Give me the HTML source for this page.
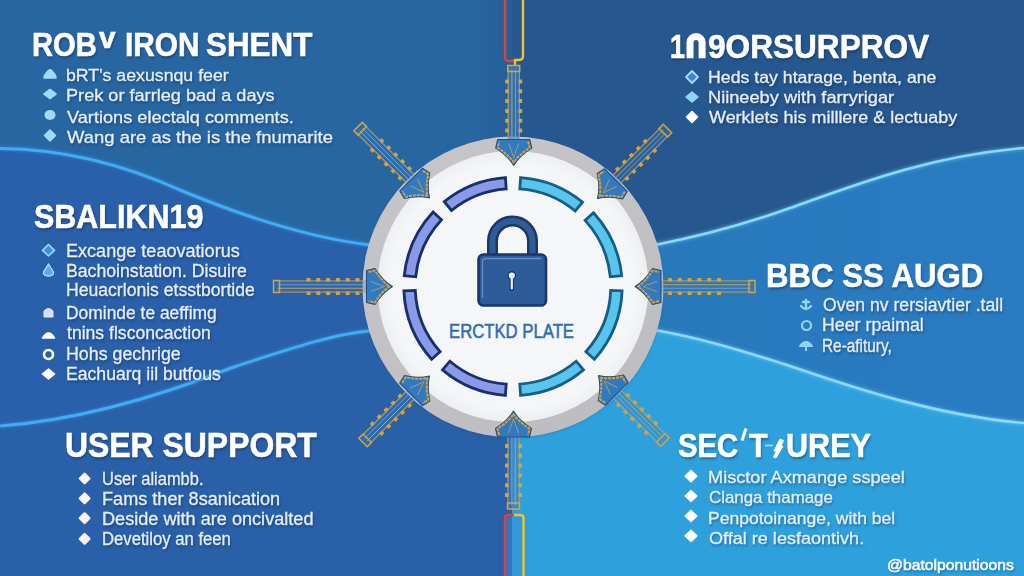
<!DOCTYPE html>
<html><head><meta charset="utf-8"><style>
html,body{margin:0;padding:0;width:1024px;height:576px;overflow:hidden;background:#2866a2}
.t{position:absolute;white-space:pre;line-height:1;font-family:"Liberation Sans",sans-serif;transform-origin:0 0;text-shadow:1px 1.5px 2.5px rgba(8,30,70,0.45)}
svg{position:absolute;left:0;top:0}
</style></head><body>
<svg width="1024" height="576" viewBox="0 0 1024 576">
<defs>
<linearGradient id="lg" x1="0" y1="0" x2="0" y2="1"><stop offset="0" stop-color="#2866a2"/><stop offset="1" stop-color="#2b62a6"/></linearGradient>
<linearGradient id="mg" x1="0" y1="0" x2="1" y2="0"><stop offset="0" stop-color="#2776ba"/><stop offset="1" stop-color="#2a7cc0"/></linearGradient>
<radialGradient id="wg" cx="0.5" cy="0.5" r="0.5"><stop offset="0.9" stop-color="#f5f6f7"/><stop offset="1" stop-color="#eeeff1"/></radialGradient>
<linearGradient id="rg" x1="0.2" y1="0" x2="0.8" y2="1"><stop offset="0" stop-color="#c6c6c8"/><stop offset="1" stop-color="#bdbdc0"/></linearGradient>
<filter id="glow" x="-10%" y="-10%" width="120%" height="120%"><feGaussianBlur stdDeviation="1.5"/></filter>
<filter id="b05"><feGaussianBlur stdDeviation="0.5"/></filter>
</defs>
<rect x="0" y="0" width="512" height="576" fill="#2866a2"/>
<rect x="512" y="0" width="512" height="576" fill="#26578e"/>
<defs><linearGradient id="cg" x1="0" y1="0" x2="1" y2="0"><stop offset="0" stop-color="#26578e" stop-opacity="0"/><stop offset="1" stop-color="#26578e" stop-opacity="0.6"/></linearGradient></defs>
<rect x="470" y="0" width="42" height="200" fill="url(#cg)"/>
<path d="M0,148.5 C60,149 120,163 180,190 C240,215 310,238 370,245 L512,245 L512,576 L0,576 Z" fill="#2a5fa9"/>
<path d="M0,426 C80,420 160,396 231,368 C300,345 340,333 370,331 L512,331 L512,576 L0,576 Z" fill="#2a60a7"/>
<path d="M655,245 C700,236 740,226 790,208 C860,183 930,156 1024,148 L1024,576 L512,576 L512,244 Z" fill="url(#mg)"/>
<path d="M655,330 C700,338 740,350 790,366 C860,390 940,416 1024,423 L1024,576 L512,576 L512,330 Z" fill="#2ea0db"/>
<path d="M0,148.5 C60,149 120,163 180,190 C240,215 310,238 370,245" fill="none" stroke="#3aa6f0" stroke-width="5" opacity="0.35" filter="url(#glow)"/>
<path d="M0,148.5 C60,149 120,163 180,190 C240,215 310,238 370,245" fill="none" stroke="#40acf4" stroke-width="3"/>
<path d="M0,426 C80,420 160,396 231,368 C300,345 340,333 370,331" fill="none" stroke="#3aa6f0" stroke-width="5" opacity="0.35" filter="url(#glow)"/>
<path d="M0,426 C80,420 160,396 231,368 C300,345 340,333 370,331" fill="none" stroke="#40acf4" stroke-width="3"/>
<path d="M655,245 C700,236 740,226 790,208 C860,183 930,156 1024,148" fill="none" stroke="#6fd0fa" stroke-width="5" opacity="0.4" filter="url(#glow)"/>
<path d="M655,245 C700,236 740,226 790,208 C860,183 930,156 1024,148" fill="none" stroke="#8ad8fb" stroke-width="2.6"/>
<path d="M655,330 C700,338 740,350 790,366 C860,390 940,416 1024,423" fill="none" stroke="#6fd0fa" stroke-width="5" opacity="0.4" filter="url(#glow)"/>
<path d="M655,330 C700,338 740,350 790,366 C860,390 940,416 1024,423" fill="none" stroke="#8ad8fb" stroke-width="2.6"/>
<path d="M505,0 L505,57 Q505,61 509,61 L514,61" fill="none" stroke="#d8453c" stroke-width="2.4"/>
<path d="M523,0 L523,56 Q523,60 519,60 L515,60 L515,66" fill="none" stroke="#f1c232" stroke-width="2.4"/>
<rect x="506.5" y="517" width="15.5" height="59" fill="#3a8ed8" opacity="0.5"/>
<path d="M505,576 L505,518 Q505,515 508,515 L514,515" fill="none" stroke="#d8453c" stroke-width="2.4"/>
<path d="M523.5,576 L523.5,518 Q523.5,515 520,515 L514,515" fill="none" stroke="#f1c232" stroke-width="2.4"/>
<circle cx="513" cy="288.5" r="150" fill="#1d4a80" opacity="0.25" filter="url(#glow)"/>
<circle cx="513" cy="287" r="150.5" fill="url(#rg)"/>
<circle cx="513" cy="286.5" r="135.5" fill="url(#wg)"/>
<path d="M621.7,275.7 A109.2,109.2 0 0 0 593.5,212.7 L585.1,220.4 A97.8,97.8 0 0 1 610.3,276.8 Z" fill="#58c6ec" stroke="#165e88" stroke-width="2.8" stroke-linejoin="miter"/>
<path d="M582.5,202.2 A109.2,109.2 0 0 0 520.6,177.6 L519.8,188.9 A97.8,97.8 0 0 1 575.2,211.0 Z" fill="#58c6ec" stroke="#165e88" stroke-width="2.8" stroke-linejoin="miter"/>
<path d="M505.4,177.6 A109.2,109.2 0 0 0 444.3,201.6 L451.5,210.5 A97.8,97.8 0 0 1 506.2,188.9 Z" fill="#8a9ae6" stroke="#172f6c" stroke-width="2.8" stroke-linejoin="miter"/>
<path d="M433.1,212.0 A109.2,109.2 0 0 0 404.3,275.7 L415.7,276.8 A97.8,97.8 0 0 1 441.5,219.8 Z" fill="#8a9ae6" stroke="#172f6c" stroke-width="2.8" stroke-linejoin="miter"/>
<path d="M403.9,290.9 A109.2,109.2 0 0 0 431.6,359.3 L440.1,351.7 A97.8,97.8 0 0 1 415.3,290.4 Z" fill="#8a9ae6" stroke="#172f6c" stroke-width="2.8" stroke-linejoin="miter"/>
<path d="M442.5,369.9 A109.2,109.2 0 0 0 505.4,395.4 L506.2,384.1 A97.8,97.8 0 0 1 449.9,361.2 Z" fill="#8a9ae6" stroke="#172f6c" stroke-width="2.8" stroke-linejoin="miter"/>
<path d="M520.6,395.4 A109.2,109.2 0 0 0 583.5,369.9 L576.1,361.2 A97.8,97.8 0 0 1 519.8,384.1 Z" fill="#58c6ec" stroke="#165e88" stroke-width="2.8" stroke-linejoin="miter"/>
<path d="M594.4,359.3 A109.2,109.2 0 0 0 622.1,290.9 L610.7,290.4 A97.8,97.8 0 0 1 585.9,351.7 Z" fill="#58c6ec" stroke="#165e88" stroke-width="2.8" stroke-linejoin="miter"/>
<path d="M492.5,258 L492.5,241 A20,20 0 0 1 532.5,241 L532.5,258" fill="none" stroke="#1b3768" stroke-width="11"/>
<path d="M492.5,258 L492.5,241 A20,20 0 0 1 532.5,241 L532.5,258" fill="none" stroke="#2f5c98" stroke-width="6"/>
<rect x="478.5" y="254.5" width="67.5" height="51" rx="5" fill="#2e5c9a" stroke="#1b3768" stroke-width="2.6"/>
<path d="M482.5,298 L482.5,262 Q482.5,258.5 486,258.5 L541,258.5" fill="none" stroke="#7aa0d0" stroke-width="1.3" opacity="0.75"/>
<circle cx="511.8" cy="275.5" r="4.4" fill="#1b3768"/>
<rect x="509.6" y="276" width="4.4" height="15" rx="1.6" fill="#1b3768"/>
<circle cx="511.8" cy="275.5" r="3.1" fill="#e8eff8"/>
<rect x="510.7" y="276" width="2.2" height="13.5" rx="1" fill="#e8eff8"/>
<g transform="translate(392.5,286.5) rotate(0)"><rect x="-119" y="-6" width="96" height="12" fill="#3282cc" opacity="0.3"/><path d="M-116,-5.6 L-23,-5.6 M-116,5.6 L-23,5.6" stroke="#d9a23a" stroke-width="1" fill="none" opacity="0.9"/><line x1="-115" y1="-1.8" x2="-23" y2="-1.8" stroke="#9fb9cc" stroke-width="0.8" opacity="0.7"/><line x1="-115" y1="1.8" x2="-23" y2="1.8" stroke="#d9a23a" stroke-width="0.9"/><rect x="-119" y="-6" width="6" height="12" fill="none" stroke="#d9a23a" stroke-width="1.5"/><rect x="-37.0" y="-8.5" width="4" height="3.6" rx="0.6" fill="#d9a23a"/><rect x="-37.0" y="4.9" width="4" height="3.6" rx="0.6" fill="#d9a23a"/><rect x="-46.8" y="-8.5" width="4" height="3.6" rx="0.6" fill="#d9a23a"/><rect x="-46.8" y="4.9" width="4" height="3.6" rx="0.6" fill="#d9a23a"/><rect x="-56.6" y="-8.5" width="4" height="3.6" rx="0.6" fill="#d9a23a"/><rect x="-56.6" y="4.9" width="4" height="3.6" rx="0.6" fill="#d9a23a"/><rect x="-66.4" y="-8.5" width="4" height="3.6" rx="0.6" fill="#d9a23a"/><rect x="-66.4" y="4.9" width="4" height="3.6" rx="0.6" fill="#d9a23a"/><rect x="-76.2" y="-8.5" width="4" height="3.6" rx="0.6" fill="#d9a23a"/><rect x="-76.2" y="4.9" width="4" height="3.6" rx="0.6" fill="#d9a23a"/><rect x="-86.0" y="-8.5" width="4" height="3.6" rx="0.6" fill="#d9a23a"/><rect x="-86.0" y="4.9" width="4" height="3.6" rx="0.6" fill="#d9a23a"/><path d="M-26,-16 L-17.5,-18 Q-10,-6 0,0 Q-10,6 -17.5,18 L-26,16 Z" fill="#2f7ac2" stroke="#24507f" stroke-width="1.1" stroke-linejoin="round"/><path d="M-24,-14.5 L-17.5,-16 Q-11,-5.5 -3,0 Q-11,5.5 -17.5,16 L-24,14.5" fill="none" stroke="#d9a23a" stroke-width="2" stroke-dasharray="3 1" stroke-linejoin="round"/><path d="M-22,-5 L-8,0 L-22,5" fill="none" stroke="#d9a23a" stroke-width="0.9" opacity="0.85"/></g>
<g transform="translate(635,286.5) rotate(180)"><rect x="-120" y="-6" width="97" height="12" fill="#3282cc" opacity="0.3"/><path d="M-117,-5.6 L-23,-5.6 M-117,5.6 L-23,5.6" stroke="#d9a23a" stroke-width="1" fill="none" opacity="0.9"/><line x1="-116" y1="-1.8" x2="-23" y2="-1.8" stroke="#9fb9cc" stroke-width="0.8" opacity="0.7"/><line x1="-116" y1="1.8" x2="-23" y2="1.8" stroke="#d9a23a" stroke-width="0.9"/><rect x="-120" y="-6" width="6" height="12" fill="none" stroke="#d9a23a" stroke-width="1.5"/><rect x="-37.0" y="-8.5" width="4" height="3.6" rx="0.6" fill="#d9a23a"/><rect x="-37.0" y="4.9" width="4" height="3.6" rx="0.6" fill="#d9a23a"/><rect x="-46.8" y="-8.5" width="4" height="3.6" rx="0.6" fill="#d9a23a"/><rect x="-46.8" y="4.9" width="4" height="3.6" rx="0.6" fill="#d9a23a"/><rect x="-56.6" y="-8.5" width="4" height="3.6" rx="0.6" fill="#d9a23a"/><rect x="-56.6" y="4.9" width="4" height="3.6" rx="0.6" fill="#d9a23a"/><rect x="-66.4" y="-8.5" width="4" height="3.6" rx="0.6" fill="#d9a23a"/><rect x="-66.4" y="4.9" width="4" height="3.6" rx="0.6" fill="#d9a23a"/><rect x="-76.2" y="-8.5" width="4" height="3.6" rx="0.6" fill="#d9a23a"/><rect x="-76.2" y="4.9" width="4" height="3.6" rx="0.6" fill="#d9a23a"/><rect x="-86.0" y="-8.5" width="4" height="3.6" rx="0.6" fill="#d9a23a"/><rect x="-86.0" y="4.9" width="4" height="3.6" rx="0.6" fill="#d9a23a"/><path d="M-26,-16 L-17.5,-18 Q-10,-6 0,0 Q-10,6 -17.5,18 L-26,16 Z" fill="#2f7ac2" stroke="#24507f" stroke-width="1.1" stroke-linejoin="round"/><path d="M-24,-14.5 L-17.5,-16 Q-11,-5.5 -3,0 Q-11,5.5 -17.5,16 L-24,14.5" fill="none" stroke="#d9a23a" stroke-width="2" stroke-dasharray="3 1" stroke-linejoin="round"/><path d="M-22,-5 L-8,0 L-22,5" fill="none" stroke="#d9a23a" stroke-width="0.9" opacity="0.85"/></g>
<g transform="translate(513.7,165.5) rotate(90)"><rect x="-100" y="-6" width="77" height="12" fill="#3282cc" opacity="0.65"/><path d="M-97,-5.6 L-23,-5.6 M-97,5.6 L-23,5.6" stroke="#d9a23a" stroke-width="1" fill="none" opacity="0.9"/><line x1="-96" y1="-1.8" x2="-23" y2="-1.8" stroke="#9fb9cc" stroke-width="0.8" opacity="0.7"/><line x1="-96" y1="1.8" x2="-23" y2="1.8" stroke="#d9a23a" stroke-width="0.9"/><rect x="-100" y="-6" width="6" height="12" fill="none" stroke="#d9a23a" stroke-width="1.5"/><rect x="-37.0" y="-8.5" width="4" height="3.6" rx="0.6" fill="#d9a23a"/><rect x="-37.0" y="4.9" width="4" height="3.6" rx="0.6" fill="#d9a23a"/><rect x="-46.8" y="-8.5" width="4" height="3.6" rx="0.6" fill="#d9a23a"/><rect x="-46.8" y="4.9" width="4" height="3.6" rx="0.6" fill="#d9a23a"/><rect x="-56.6" y="-8.5" width="4" height="3.6" rx="0.6" fill="#d9a23a"/><rect x="-56.6" y="4.9" width="4" height="3.6" rx="0.6" fill="#d9a23a"/><rect x="-66.4" y="-8.5" width="4" height="3.6" rx="0.6" fill="#d9a23a"/><rect x="-66.4" y="4.9" width="4" height="3.6" rx="0.6" fill="#d9a23a"/><rect x="-76.2" y="-8.5" width="4" height="3.6" rx="0.6" fill="#d9a23a"/><rect x="-76.2" y="4.9" width="4" height="3.6" rx="0.6" fill="#d9a23a"/><rect x="-86.0" y="-8.5" width="4" height="3.6" rx="0.6" fill="#d9a23a"/><rect x="-86.0" y="4.9" width="4" height="3.6" rx="0.6" fill="#d9a23a"/><path d="M-26,-16 L-17.5,-18 Q-10,-6 0,0 Q-10,6 -17.5,18 L-26,16 Z" fill="#2f7ac2" stroke="#24507f" stroke-width="1.1" stroke-linejoin="round"/><path d="M-24,-14.5 L-17.5,-16 Q-11,-5.5 -3,0 Q-11,5.5 -17.5,16 L-24,14.5" fill="none" stroke="#d9a23a" stroke-width="2" stroke-dasharray="3 1" stroke-linejoin="round"/><path d="M-22,-5 L-8,0 L-22,5" fill="none" stroke="#d9a23a" stroke-width="0.9" opacity="0.85"/></g>
<g transform="translate(513.5,411) rotate(-90)"><rect x="-98" y="-6" width="75" height="12" fill="#3282cc" opacity="0.65"/><path d="M-95,-5.6 L-23,-5.6 M-95,5.6 L-23,5.6" stroke="#d9a23a" stroke-width="1" fill="none" opacity="0.9"/><line x1="-94" y1="-1.8" x2="-23" y2="-1.8" stroke="#9fb9cc" stroke-width="0.8" opacity="0.7"/><line x1="-94" y1="1.8" x2="-23" y2="1.8" stroke="#d9a23a" stroke-width="0.9"/><rect x="-98" y="-6" width="6" height="12" fill="none" stroke="#d9a23a" stroke-width="1.5"/><rect x="-37.0" y="-8.5" width="4" height="3.6" rx="0.6" fill="#d9a23a"/><rect x="-37.0" y="4.9" width="4" height="3.6" rx="0.6" fill="#d9a23a"/><rect x="-46.8" y="-8.5" width="4" height="3.6" rx="0.6" fill="#d9a23a"/><rect x="-46.8" y="4.9" width="4" height="3.6" rx="0.6" fill="#d9a23a"/><rect x="-56.6" y="-8.5" width="4" height="3.6" rx="0.6" fill="#d9a23a"/><rect x="-56.6" y="4.9" width="4" height="3.6" rx="0.6" fill="#d9a23a"/><rect x="-66.4" y="-8.5" width="4" height="3.6" rx="0.6" fill="#d9a23a"/><rect x="-66.4" y="4.9" width="4" height="3.6" rx="0.6" fill="#d9a23a"/><rect x="-76.2" y="-8.5" width="4" height="3.6" rx="0.6" fill="#d9a23a"/><rect x="-76.2" y="4.9" width="4" height="3.6" rx="0.6" fill="#d9a23a"/><rect x="-86.0" y="-8.5" width="4" height="3.6" rx="0.6" fill="#d9a23a"/><rect x="-86.0" y="4.9" width="4" height="3.6" rx="0.6" fill="#d9a23a"/><path d="M-26,-16 L-17.5,-18 Q-10,-6 0,0 Q-10,6 -17.5,18 L-26,16 Z" fill="#2f7ac2" stroke="#24507f" stroke-width="1.1" stroke-linejoin="round"/><path d="M-24,-14.5 L-17.5,-16 Q-11,-5.5 -3,0 Q-11,5.5 -17.5,16 L-24,14.5" fill="none" stroke="#d9a23a" stroke-width="2" stroke-dasharray="3 1" stroke-linejoin="round"/><path d="M-22,-5 L-8,0 L-22,5" fill="none" stroke="#d9a23a" stroke-width="0.9" opacity="0.85"/></g>
<g transform="translate(429.5,198) rotate(45)"><rect x="-101" y="-6" width="78" height="12" fill="#3282cc" opacity="0.3"/><path d="M-98,-5.6 L-23,-5.6 M-98,5.6 L-23,5.6" stroke="#d9a23a" stroke-width="1" fill="none" opacity="0.9"/><line x1="-97" y1="-1.8" x2="-23" y2="-1.8" stroke="#9fb9cc" stroke-width="0.8" opacity="0.7"/><line x1="-97" y1="1.8" x2="-23" y2="1.8" stroke="#d9a23a" stroke-width="0.9"/><rect x="-101" y="-6" width="6" height="12" fill="none" stroke="#d9a23a" stroke-width="1.5"/><rect x="-37.0" y="-8.5" width="4" height="3.6" rx="0.6" fill="#d9a23a"/><rect x="-37.0" y="4.9" width="4" height="3.6" rx="0.6" fill="#d9a23a"/><rect x="-46.8" y="-8.5" width="4" height="3.6" rx="0.6" fill="#d9a23a"/><rect x="-46.8" y="4.9" width="4" height="3.6" rx="0.6" fill="#d9a23a"/><rect x="-56.6" y="-8.5" width="4" height="3.6" rx="0.6" fill="#d9a23a"/><rect x="-56.6" y="4.9" width="4" height="3.6" rx="0.6" fill="#d9a23a"/><rect x="-66.4" y="-8.5" width="4" height="3.6" rx="0.6" fill="#d9a23a"/><rect x="-66.4" y="4.9" width="4" height="3.6" rx="0.6" fill="#d9a23a"/><rect x="-76.2" y="-8.5" width="4" height="3.6" rx="0.6" fill="#d9a23a"/><rect x="-76.2" y="4.9" width="4" height="3.6" rx="0.6" fill="#d9a23a"/><path d="M-26,-16 L-17.5,-18 Q-10,-6 0,0 Q-10,6 -17.5,18 L-26,16 Z" fill="#2f7ac2" stroke="#24507f" stroke-width="1.1" stroke-linejoin="round"/><path d="M-24,-14.5 L-17.5,-16 Q-11,-5.5 -3,0 Q-11,5.5 -17.5,16 L-24,14.5" fill="none" stroke="#d9a23a" stroke-width="2" stroke-dasharray="3 1" stroke-linejoin="round"/><path d="M-22,-5 L-8,0 L-22,5" fill="none" stroke="#d9a23a" stroke-width="0.9" opacity="0.85"/></g>
<g transform="translate(597.5,198.5) rotate(135)"><rect x="-99" y="-6" width="76" height="12" fill="#3282cc" opacity="0.3"/><path d="M-96,-5.6 L-23,-5.6 M-96,5.6 L-23,5.6" stroke="#d9a23a" stroke-width="1" fill="none" opacity="0.9"/><line x1="-95" y1="-1.8" x2="-23" y2="-1.8" stroke="#9fb9cc" stroke-width="0.8" opacity="0.7"/><line x1="-95" y1="1.8" x2="-23" y2="1.8" stroke="#d9a23a" stroke-width="0.9"/><rect x="-99" y="-6" width="6" height="12" fill="none" stroke="#d9a23a" stroke-width="1.5"/><rect x="-37.0" y="-8.5" width="4" height="3.6" rx="0.6" fill="#d9a23a"/><rect x="-37.0" y="4.9" width="4" height="3.6" rx="0.6" fill="#d9a23a"/><rect x="-46.8" y="-8.5" width="4" height="3.6" rx="0.6" fill="#d9a23a"/><rect x="-46.8" y="4.9" width="4" height="3.6" rx="0.6" fill="#d9a23a"/><rect x="-56.6" y="-8.5" width="4" height="3.6" rx="0.6" fill="#d9a23a"/><rect x="-56.6" y="4.9" width="4" height="3.6" rx="0.6" fill="#d9a23a"/><rect x="-66.4" y="-8.5" width="4" height="3.6" rx="0.6" fill="#d9a23a"/><rect x="-66.4" y="4.9" width="4" height="3.6" rx="0.6" fill="#d9a23a"/><rect x="-76.2" y="-8.5" width="4" height="3.6" rx="0.6" fill="#d9a23a"/><rect x="-76.2" y="4.9" width="4" height="3.6" rx="0.6" fill="#d9a23a"/><path d="M-26,-16 L-17.5,-18 Q-10,-6 0,0 Q-10,6 -17.5,18 L-26,16 Z" fill="#2f7ac2" stroke="#24507f" stroke-width="1.1" stroke-linejoin="round"/><path d="M-24,-14.5 L-17.5,-16 Q-11,-5.5 -3,0 Q-11,5.5 -17.5,16 L-24,14.5" fill="none" stroke="#d9a23a" stroke-width="2" stroke-dasharray="3 1" stroke-linejoin="round"/><path d="M-22,-5 L-8,0 L-22,5" fill="none" stroke="#d9a23a" stroke-width="0.9" opacity="0.85"/></g>
<g transform="translate(429.5,376) rotate(-45)"><rect x="-94" y="-6" width="71" height="12" fill="#3282cc" opacity="0.3"/><path d="M-91,-5.6 L-23,-5.6 M-91,5.6 L-23,5.6" stroke="#d9a23a" stroke-width="1" fill="none" opacity="0.9"/><line x1="-90" y1="-1.8" x2="-23" y2="-1.8" stroke="#9fb9cc" stroke-width="0.8" opacity="0.7"/><line x1="-90" y1="1.8" x2="-23" y2="1.8" stroke="#d9a23a" stroke-width="0.9"/><rect x="-94" y="-6" width="6" height="12" fill="none" stroke="#d9a23a" stroke-width="1.5"/><rect x="-37.0" y="-8.5" width="4" height="3.6" rx="0.6" fill="#d9a23a"/><rect x="-37.0" y="4.9" width="4" height="3.6" rx="0.6" fill="#d9a23a"/><rect x="-46.8" y="-8.5" width="4" height="3.6" rx="0.6" fill="#d9a23a"/><rect x="-46.8" y="4.9" width="4" height="3.6" rx="0.6" fill="#d9a23a"/><rect x="-56.6" y="-8.5" width="4" height="3.6" rx="0.6" fill="#d9a23a"/><rect x="-56.6" y="4.9" width="4" height="3.6" rx="0.6" fill="#d9a23a"/><rect x="-66.4" y="-8.5" width="4" height="3.6" rx="0.6" fill="#d9a23a"/><rect x="-66.4" y="4.9" width="4" height="3.6" rx="0.6" fill="#d9a23a"/><rect x="-76.2" y="-8.5" width="4" height="3.6" rx="0.6" fill="#d9a23a"/><rect x="-76.2" y="4.9" width="4" height="3.6" rx="0.6" fill="#d9a23a"/><path d="M-26,-16 L-17.5,-18 Q-10,-6 0,0 Q-10,6 -17.5,18 L-26,16 Z" fill="#2f7ac2" stroke="#24507f" stroke-width="1.1" stroke-linejoin="round"/><path d="M-24,-14.5 L-17.5,-16 Q-11,-5.5 -3,0 Q-11,5.5 -17.5,16 L-24,14.5" fill="none" stroke="#d9a23a" stroke-width="2" stroke-dasharray="3 1" stroke-linejoin="round"/><path d="M-22,-5 L-8,0 L-22,5" fill="none" stroke="#d9a23a" stroke-width="0.9" opacity="0.85"/></g>
<g transform="translate(598.5,375.5) rotate(-135)"><rect x="-94" y="-6" width="71" height="12" fill="#3282cc" opacity="0.3"/><path d="M-91,-5.6 L-23,-5.6 M-91,5.6 L-23,5.6" stroke="#d9a23a" stroke-width="1" fill="none" opacity="0.9"/><line x1="-90" y1="-1.8" x2="-23" y2="-1.8" stroke="#9fb9cc" stroke-width="0.8" opacity="0.7"/><line x1="-90" y1="1.8" x2="-23" y2="1.8" stroke="#d9a23a" stroke-width="0.9"/><rect x="-94" y="-6" width="6" height="12" fill="none" stroke="#d9a23a" stroke-width="1.5"/><rect x="-37.0" y="-8.5" width="4" height="3.6" rx="0.6" fill="#d9a23a"/><rect x="-37.0" y="4.9" width="4" height="3.6" rx="0.6" fill="#d9a23a"/><rect x="-46.8" y="-8.5" width="4" height="3.6" rx="0.6" fill="#d9a23a"/><rect x="-46.8" y="4.9" width="4" height="3.6" rx="0.6" fill="#d9a23a"/><rect x="-56.6" y="-8.5" width="4" height="3.6" rx="0.6" fill="#d9a23a"/><rect x="-56.6" y="4.9" width="4" height="3.6" rx="0.6" fill="#d9a23a"/><rect x="-66.4" y="-8.5" width="4" height="3.6" rx="0.6" fill="#d9a23a"/><rect x="-66.4" y="4.9" width="4" height="3.6" rx="0.6" fill="#d9a23a"/><rect x="-76.2" y="-8.5" width="4" height="3.6" rx="0.6" fill="#d9a23a"/><rect x="-76.2" y="4.9" width="4" height="3.6" rx="0.6" fill="#d9a23a"/><path d="M-26,-16 L-17.5,-18 Q-10,-6 0,0 Q-10,6 -17.5,18 L-26,16 Z" fill="#2f7ac2" stroke="#24507f" stroke-width="1.1" stroke-linejoin="round"/><path d="M-24,-14.5 L-17.5,-16 Q-11,-5.5 -3,0 Q-11,5.5 -17.5,16 L-24,14.5" fill="none" stroke="#d9a23a" stroke-width="2" stroke-dasharray="3 1" stroke-linejoin="round"/><path d="M-22,-5 L-8,0 L-22,5" fill="none" stroke="#d9a23a" stroke-width="0.9" opacity="0.85"/></g>
<text x="511.5" y="337.5" text-anchor="middle" font-family="Liberation Sans" font-weight="400" font-size="19.5" fill="#2d6db0" stroke="#2d6db0" stroke-width="0.5" textLength="125" lengthAdjust="spacingAndGlyphs">ERCTKD PLATE</text>
<g filter="url(#b05)">
<path d="M44,78 Q44,75 47,72 L49,70 Q50,69.5 51,70 L53,72 Q56,75 56,78 Z" fill="#a2d9f8" stroke="#a2d9f8" stroke-width="1.5" stroke-linejoin="round"/>
<path d="M44.0,94 L50,89.5 L56.0,94 L50,98.5 Z" fill="#a2d9f8" stroke="#a2d9f8" stroke-width="1.6" stroke-linejoin="round" opacity="1"/>
<ellipse cx="50" cy="115" rx="5.5" ry="5" fill="#a2d9f8"/>
<path d="M44.5,135.5 L50,130.0 L55.5,135.5 L50,141.0 Z" fill="#a2d9f8" stroke="#a2d9f8" stroke-width="1.6" stroke-linejoin="round" opacity="1"/>
<path d="M42.5,250.3 L48.5,244.5 L54.5,250.3 L48.5,256 Z" fill="#3d8fe0" stroke="#9ed8f8" stroke-width="1.6" stroke-linejoin="round"/>
<path d="M48.5,264 L53.5,272 Q54,276 48.5,276 Q43,276 43.5,272 Z" fill="#5aaaf0" stroke="#b8e2fb" stroke-width="1.3" stroke-linejoin="round"/>
<path d="M44,317 L44,311 Q48.5,306 53,311 L53,317 Z" fill="#d8dcff" stroke="#e8eaff" stroke-width="1" stroke-linejoin="round"/>
<path d="M42.5,338 Q48.5,328 54.5,338 Z" fill="#ffffff" stroke="#ffffff" stroke-width="1.5" stroke-linejoin="round"/>
<circle cx="48.5" cy="354.5" r="4.5" fill="none" stroke="#ffffff" stroke-width="2.6"/>
<path d="M42.5,374 L48.5,369.0 L54.5,374 L48.5,379.0 Z" fill="#ffffff" stroke="#ffffff" stroke-width="1.6" stroke-linejoin="round" opacity="1"/>
<path d="M79.85,478.5 L84.6,473.75 L89.35,478.5 L84.6,483.25 Z" fill="#fdf2f6" stroke="#fdf2f6" stroke-width="2.4" stroke-linejoin="round" opacity="1"/>
<path d="M79.85,498.3 L84.6,493.55 L89.35,498.3 L84.6,503.05 Z" fill="#fdf2f6" stroke="#fdf2f6" stroke-width="2.4" stroke-linejoin="round" opacity="1"/>
<path d="M79.85,518.2 L84.6,513.45 L89.35,518.2 L84.6,522.95 Z" fill="#fdf2f6" stroke="#fdf2f6" stroke-width="2.4" stroke-linejoin="round" opacity="1"/>
<path d="M79.85,538.8 L84.6,534.05 L89.35,538.8 L84.6,543.55 Z" fill="#fdf2f6" stroke="#fdf2f6" stroke-width="2.4" stroke-linejoin="round" opacity="1"/>
<path d="M686,77 L692,71 L698,77 L692,83 Z" fill="#3a86d6" stroke="#a8dcfa" stroke-width="1.8" stroke-linejoin="round"/>
<path d="M686.0,97 L692,92.0 L698.0,97 L692,102.0 Z" fill="#8fd6f8" stroke="#8fd6f8" stroke-width="1.6" stroke-linejoin="round" opacity="1"/>
<path d="M686.5,117 L692,111.5 L697.5,117 L692,122.5 Z" fill="#ffffff" stroke="#ffffff" stroke-width="1.6" stroke-linejoin="round" opacity="1"/>
<path d="M801,306 Q806,312 811,306 M806,300 L806,309 M803,302 L809,302" fill="none" stroke="#8fd4f8" stroke-width="2.4" stroke-linecap="round"/>
<circle cx="806.5" cy="325.5" r="4.5" fill="none" stroke="#8fd4f8" stroke-width="2.2"/>
<path d="M800,346 Q806,338 812,346 Z M806,344 L806,351" fill="#8fd4f8" stroke="#8fd4f8" stroke-width="2" stroke-linejoin="round"/>
<path d="M685.25,476.2 L691,470.7 L696.75,476.2 L691,481.7 Z" fill="#ffffff" stroke="#ffffff" stroke-width="1.6" stroke-linejoin="round" opacity="1"/>
<path d="M685.25,496 L691,490.5 L696.75,496 L691,501.5 Z" fill="#ffffff" stroke="#ffffff" stroke-width="1.6" stroke-linejoin="round" opacity="1"/>
<path d="M685.25,516 L691,510.5 L696.75,516 L691,521.5 Z" fill="#ffffff" stroke="#ffffff" stroke-width="1.6" stroke-linejoin="round" opacity="1"/>
<path d="M685.25,535.8 L691,530.3 L696.75,535.8 L691,541.3 Z" fill="#ffffff" stroke="#ffffff" stroke-width="1.6" stroke-linejoin="round" opacity="1"/>
</g>
<path d="M690,58.2 L690,42.6 A6.05,6.05 0 0 1 702.1,42.6 L702.1,58.2" fill="none" stroke="#ffffff" stroke-width="7"/>
<path d="M746,428.5 L742,440.5" stroke="#ffffff" stroke-width="3" fill="none"/>
<path d="M780,439 L783.5,440.5 L780.5,447 L783,446 L776,458 L773.5,457 L776.5,450.5 L774,451 Z" fill="#ffffff" stroke="#ffffff" stroke-width="1" stroke-linejoin="round"/>
<line x1="765" y1="445.5" x2="773" y2="445.5" stroke="#d8eefa" stroke-width="1.6" opacity="0.75"/>
</svg>
<div class="t" style="left:31.93px;top:27.70px;font-size:33px;font-weight:700;color:#ffffff;-webkit-text-stroke:0.6px #ffffff;transform:scaleX(0.8837)">ROB</div>
<div class="t" style="left:99.30px;top:22.90px;font-size:29.5px;font-weight:700;color:#ffffff;-webkit-text-stroke:0.6px #ffffff;transform:scaleX(1.0059)">v</div>
<div class="t" style="left:125.19px;top:27.70px;font-size:33px;font-weight:700;color:#ffffff;-webkit-text-stroke:0.6px #ffffff;transform:scaleX(0.9025)">IRON</div>
<div class="t" style="left:206.40px;top:27.70px;font-size:33px;font-weight:700;color:#ffffff;-webkit-text-stroke:0.6px #ffffff;transform:scaleX(0.9509)">SHENT</div>
<div class="t" style="left:34.00px;top:200.20px;font-size:33px;font-weight:700;color:#ffffff;-webkit-text-stroke:0.6px #ffffff;transform:scaleX(0.9234)">SBALIKN19</div>
<div class="t" style="left:65.18px;top:426.90px;font-size:35px;font-weight:700;color:#ffffff;-webkit-text-stroke:0.6px #ffffff;transform:scaleX(0.9117)">USER SUPPORT</div>
<div class="t" style="left:669.95px;top:31.20px;font-size:32.5px;font-weight:700;color:#ffffff;-webkit-text-stroke:0.6px #ffffff;transform:scaleX(0.8250)">1</div>
<div class="t" style="left:707.53px;top:31.20px;font-size:32.5px;font-weight:700;color:#ffffff;-webkit-text-stroke:0.6px #ffffff;transform:scaleX(0.9719)">9ORSURPROV</div>
<div class="t" style="left:765.91px;top:259.00px;font-size:33px;font-weight:700;color:#ffffff;-webkit-text-stroke:0.6px #ffffff;transform:scaleX(0.9457)">BBC SS AUGD</div>
<div class="t" style="left:678.20px;top:428.50px;font-size:33px;font-weight:700;color:#ffffff;-webkit-text-stroke:0.6px #ffffff;transform:scaleX(0.8878)">SEC</div>
<div class="t" style="left:749.00px;top:428.50px;font-size:33px;font-weight:700;color:#ffffff;-webkit-text-stroke:0.6px #ffffff;transform:scaleX(0.9200)">T</div>
<div class="t" style="left:786.07px;top:428.50px;font-size:33px;font-weight:700;color:#ffffff;-webkit-text-stroke:0.6px #ffffff;transform:scaleX(0.9264)">UREY</div>
<div class="t" style="left:65.96px;top:66.60px;font-size:17px;font-weight:400;color:#e6eef8;-webkit-text-stroke:0.3px #e6eef8;transform:scaleX(1.0427)">bRT's aexusnqu feer</div>
<div class="t" style="left:65.93px;top:86.60px;font-size:17px;font-weight:400;color:#e6eef8;-webkit-text-stroke:0.3px #e6eef8;transform:scaleX(1.0665)">Prek or farrleg bad a days</div>
<div class="t" style="left:67.00px;top:108.50px;font-size:17px;font-weight:400;color:#e6eef8;-webkit-text-stroke:0.3px #e6eef8;transform:scaleX(1.0683)">Vartions electalq comments.</div>
<div class="t" style="left:67.00px;top:128.50px;font-size:17px;font-weight:400;color:#e6eef8;-webkit-text-stroke:0.3px #e6eef8;transform:scaleX(1.0855)">Wang are as the is the fnumarite</div>
<div class="t" style="left:65.97px;top:242.70px;font-size:17.5px;font-weight:400;color:#e6eef8;-webkit-text-stroke:0.3px #e6eef8;transform:scaleX(1.0325)">Excange teaovatiorus</div>
<div class="t" style="left:65.99px;top:262.80px;font-size:17.5px;font-weight:400;color:#e6eef8;-webkit-text-stroke:0.3px #e6eef8;transform:scaleX(1.0099)">Bachoinstation. Disuire</div>
<div class="t" style="left:65.99px;top:282.00px;font-size:17.5px;font-weight:400;color:#e6eef8;-webkit-text-stroke:0.3px #e6eef8;transform:scaleX(1.0054)">Heuacrlonis etsstbortide</div>
<div class="t" style="left:66.00px;top:304.50px;font-size:17.5px;font-weight:400;color:#e6eef8;-webkit-text-stroke:0.3px #e6eef8;transform:scaleX(0.9954)">Dominde te aeffimg</div>
<div class="t" style="left:67.00px;top:325.00px;font-size:17.5px;font-weight:400;color:#e6eef8;-webkit-text-stroke:0.3px #e6eef8;transform:scaleX(1.0052)">tnins flsconcaction</div>
<div class="t" style="left:65.98px;top:346.00px;font-size:17.5px;font-weight:400;color:#e6eef8;-webkit-text-stroke:0.3px #e6eef8;transform:scaleX(1.0170)">Hohs gechrige</div>
<div class="t" style="left:65.99px;top:366.00px;font-size:17.5px;font-weight:400;color:#e6eef8;-webkit-text-stroke:0.3px #e6eef8;transform:scaleX(1.0068)">Eachuarq iil butfous</div>
<div class="t" style="left:102.36px;top:470.80px;font-size:17.5px;font-weight:400;color:#e6eef8;-webkit-text-stroke:0.3px #e6eef8;transform:scaleX(0.9397)">User aliambb.</div>
<div class="t" style="left:102.26px;top:490.80px;font-size:17.5px;font-weight:400;color:#e6eef8;-webkit-text-stroke:0.3px #e6eef8;transform:scaleX(1.0350)">Fams ther 8sanication</div>
<div class="t" style="left:102.26px;top:511.30px;font-size:17.5px;font-weight:400;color:#e6eef8;-webkit-text-stroke:0.3px #e6eef8;transform:scaleX(1.0353)">Deside with are oncivalted</div>
<div class="t" style="left:102.35px;top:531.20px;font-size:17.5px;font-weight:400;color:#e6eef8;-webkit-text-stroke:0.3px #e6eef8;transform:scaleX(0.9529)">Devetiloy an feen</div>
<div class="t" style="left:708.33px;top:68.50px;font-size:16.5px;font-weight:400;color:#e6eef8;-webkit-text-stroke:0.3px #e6eef8;transform:scaleX(1.0735)">Heds tay htarage, benta, ane</div>
<div class="t" style="left:708.30px;top:88.80px;font-size:16.5px;font-weight:400;color:#e6eef8;-webkit-text-stroke:0.3px #e6eef8;transform:scaleX(1.1033)">Niineeby with farryrigar</div>
<div class="t" style="left:709.40px;top:109.00px;font-size:16.5px;font-weight:400;color:#e6eef8;-webkit-text-stroke:0.3px #e6eef8;transform:scaleX(1.0884)">Werklets his milllere &amp; lectuaby</div>
<div class="t" style="left:822.90px;top:295.60px;font-size:18px;font-weight:400;color:#e6eef8;-webkit-text-stroke:0.3px #e6eef8;transform:scaleX(0.9784)">Oven nv rersiavtier .tall</div>
<div class="t" style="left:821.91px;top:315.70px;font-size:18px;font-weight:400;color:#e6eef8;-webkit-text-stroke:0.3px #e6eef8;transform:scaleX(0.9878)">Heer rpaimal</div>
<div class="t" style="left:822.05px;top:337.20px;font-size:18px;font-weight:400;color:#e6eef8;-webkit-text-stroke:0.3px #e6eef8;transform:scaleX(0.8546)">Re-afitury,</div>
<div class="t" style="left:707.53px;top:469.20px;font-size:17px;font-weight:400;color:#e6eef8;-webkit-text-stroke:0.3px #e6eef8;transform:scaleX(1.0681)">Misctor Axmange sspeel</div>
<div class="t" style="left:708.60px;top:489.00px;font-size:17px;font-weight:400;color:#e6eef8;-webkit-text-stroke:0.3px #e6eef8;transform:scaleX(0.9928)">Clanga thamage</div>
<div class="t" style="left:707.57px;top:509.60px;font-size:17px;font-weight:400;color:#e6eef8;-webkit-text-stroke:0.3px #e6eef8;transform:scaleX(1.0317)">Penpotoinange, with bel</div>
<div class="t" style="left:708.60px;top:529.60px;font-size:17px;font-weight:400;color:#e6eef8;-webkit-text-stroke:0.3px #e6eef8;transform:scaleX(1.0617)">Offal re lesfaontivh.</div>
<div class="t" style="left:886.99px;top:557.30px;font-size:15.5px;font-weight:400;color:#eef6fc;-webkit-text-stroke:0.7px #eef6fc;transform:scaleX(1.0126)">@batolponutioons</div>
</body></html>
